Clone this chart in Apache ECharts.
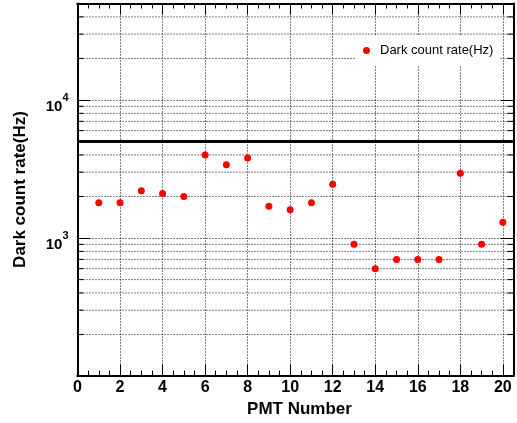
<!DOCTYPE html>
<html>
<head>
<meta charset="utf-8">
<script src="https://cdn.jsdelivr.net/npm/echarts@6/dist/echarts.min.js"></script>
<style>html,body{margin:0;padding:0;background:#fff}#c{width:517px;height:423px}</style>
</head>
<body>
<div id="c"></div>
<script>
// ---- data ----
const pmtNumbers = [1,2,3,4,5,6,7,8,9,10,11,12,13,14,15,16,17,18,19,20];
const darkRates = [1800,1800,2200,2100,2000,4000,3400,3800,1700,1600,1800,2450,900,600,700,700,700,2950,900,1300];
const seriesName = 'Dark count rate(Hz)';
const thresholdRate = [5000];
const yMinorValues = [200,300,400,500,600,700,800,900,2000,3000,4000,5000,6000,7000,8000,9000,20000,30000,40000];
const xRange = [0, 20.5];
const yRange = [101, 50000];
const xTitle = 'PMT Number';
const yTitle = 'Dark count rate(Hz)';

const FONT = "'Liberation Sans', Arial, Helvetica, sans-serif";
const chart = echarts.init(document.getElementById('c'), null, {renderer: 'canvas'});

function xAxisCfg(pos, interval, tickLen, opts) {
  return Object.assign({
    type: 'value', position: pos, min: xRange[0], max: xRange[1], interval: interval,
    axisLine: {show: true, onZero: false, lineStyle: {color: '#000', width: 2}},
    axisTick: {show: true, inside: true, length: tickLen, lineStyle: {color: '#000', width: 1}},
    axisLabel: {show: false},
    splitLine: {show: false}
  }, opts || {});
}

const option = {
  animation: false,
  grid: {left: 77.5, right: 3.5, top: 3.5, bottom: 47.5, containLabel: false},
  legend: {
    data: [seriesName], left: 355, top: 35, orient: 'horizontal',
    icon: 'circle', itemWidth: 17, itemHeight: 7, itemGap: 0,
    padding: [9, 6, 9, 8], backgroundColor: '#fff',
    itemStyle: {opacity: 1},
    textStyle: {fontFamily: FONT, fontSize: 13, color: '#000'}
  },
  xAxis: [
    xAxisCfg('bottom', 2, 11, {
      name: xTitle, nameLocation: 'middle', nameGap: 16,
      nameTextStyle: {fontFamily: FONT, fontSize: 17, fontWeight: 'bold', color: '#000', padding: [0, 0, 0, 8]},
      axisLabel: {show: true, margin: 4, fontFamily: FONT, fontSize: 16, fontWeight: 'bold', color: '#000', showMaxLabel: false},
      splitLine: {show: true, lineStyle: {color: '#000', width: 1, type: [1, 2]}}
    }),
    xAxisCfg('bottom', 0.5, 5),
    xAxisCfg('top', 2, 11),
    xAxisCfg('top', 0.5, 5)
  ],
  yAxis: [
    {
      type: 'log', position: 'left', min: yRange[0], max: yRange[1], logBase: 10,
      name: yTitle, nameLocation: 'middle', nameGap: 49, nameRotate: 90,
      nameTextStyle: {fontFamily: FONT, fontSize: 17, fontWeight: 'bold', color: '#000'},
      axisLine: {show: true, onZero: false, lineStyle: {color: '#000', width: 2}},
      axisTick: {show: true, inside: true, length: 13, lineStyle: {color: '#000', width: 1}},
      axisLabel: {
        show: true, margin: 9, padding: [6, 0, 0, 0],
        formatter: function (v) {
          const e = Math.log10(v);
          if (Math.abs(e - Math.round(e)) < 1e-6) return '{b|10}{s|' + Math.round(e) + '}';
          return '';
        },
        rich: {
          b: {fontFamily: FONT, fontSize: 15, fontWeight: 'bold', color: '#000', verticalAlign: 'bottom', lineHeight: 22},
          s: {fontFamily: FONT, fontSize: 11, fontWeight: 'bold', color: '#000', verticalAlign: 'top', lineHeight: 22}
        }
      },
      splitLine: {show: true, lineStyle: {color: '#000', width: 1, type: [1, 2]}}
    },
    {
      type: 'log', position: 'right', min: yRange[0], max: yRange[1], logBase: 10,
      axisLine: {show: true, onZero: false, lineStyle: {color: '#000', width: 2}},
      axisTick: {show: true, inside: true, length: 13, lineStyle: {color: '#000', width: 1}},
      axisLabel: {show: false},
      splitLine: {show: false}
    }
  ],
  series: [
    {
      type: 'custom', silent: true, xAxisIndex: 0, yAxisIndex: 0, z: 1,
      data: yMinorValues.map(v => [xRange[0], v]),
      encode: {x: 0, y: 1},
      renderItem: function (params, api) {
        const v = api.value(1);
        const pL = api.coord([xRange[0], v]);
        const pR = api.coord([xRange[1], v]);
        return {type: 'group', children: [
          {type: 'line', shape: {x1: pL[0], y1: pL[1], x2: pR[0], y2: pR[1]}, style: {stroke: '#000', lineWidth: 1, lineDash: [1, 2]}},
          {type: 'line', shape: {x1: pL[0], y1: pL[1], x2: pL[0] + 6, y2: pL[1]}, style: {stroke: '#000', lineWidth: 1}},
          {type: 'line', shape: {x1: pR[0], y1: pR[1], x2: pR[0] - 6, y2: pR[1]}, style: {stroke: '#000', lineWidth: 1}}
        ]};
      }
    },
    {
      name: seriesName, type: 'scatter', xAxisIndex: 0, yAxisIndex: 0, z: 5,
      symbol: 'circle', symbolSize: 7,
      itemStyle: {color: '#ff0000', opacity: 1},
      data: pmtNumbers.map((n, i) => [n, darkRates[i]]),
      markLine: {
        silent: true, symbol: 'none', animation: false,
        label: {show: false},
        lineStyle: {color: '#000', width: 3, type: 'solid'},
        data: thresholdRate.map(v => ({yAxis: v}))
      }
    }
  ]
};
chart.setOption(option);
</script>
</body>
</html>
